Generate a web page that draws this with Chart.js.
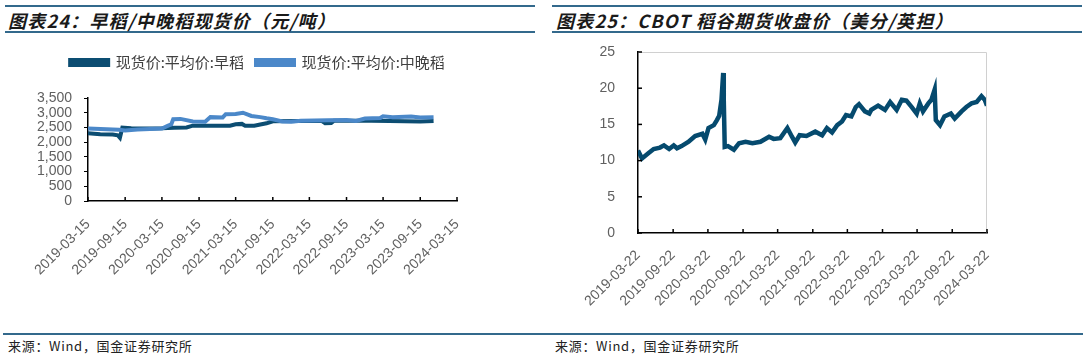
<!DOCTYPE html>
<html>
<head>
<meta charset="utf-8">
<script src="https://cdn.jsdelivr.net/npm/chart.js@4.4.1/dist/chart.umd.min.js"></script>
<style>
  body { margin: 0; width: 1086px; height: 358px; background: #fff; position: relative; overflow: hidden; font-family: "Noto Sans CJK SC", sans-serif; }
  .rule { position: absolute; height: 2px; background: #33698c; }
  .title { position: absolute; top: 7px; font-size: 18px; font-weight: bold; font-style: italic; letter-spacing: 1.2px; color: #1a1a1a; white-space: nowrap; }
  .src { position: absolute; top: 336px; font-size: 13px; letter-spacing: 0.7px; color: #222; white-space: nowrap; }
  .box { position: absolute; }
</style>
</head>
<body>
<div class="rule" style="left:5px;top:5px;width:530px"></div>
<div class="rule" style="left:5px;top:31px;width:530px"></div>
<div class="rule" style="left:552px;top:5px;width:530px"></div>
<div class="rule" style="left:552px;top:31px;width:530px"></div>
<div class="title" style="left:8px">图表24：早稻/中晚稻现货价（元/吨）</div>
<div class="title" style="left:556px">图表25：CBOT 稻谷期货收盘价（美分/英担）</div>

<div class="box" style="left:0;top:38px;width:545px;height:247px"><canvas id="rice"></canvas></div>
<div class="box" style="left:545px;top:38px;width:541px;height:275px"><canvas id="cbot"></canvas></div>

<div class="rule" style="left:3px;top:333px;width:1080px;height:2px"></div>
<div class="src" style="left:8px">来源：Wind，国金证券研究所</div>
<div class="src" style="left:555px">来源：Wind，国金证券研究所</div>

<script>
// 左图：早稻 / 中晚稻现货价
const riceTicks = ['2019-03-15', '2019-09-15', '2020-03-15', '2020-09-15', '2021-03-15', '2021-09-15',
  '2022-03-15', '2022-09-15', '2023-03-15', '2023-09-15', '2024-03-15']

const earlyDates = ['2019-03-15', '2019-05-15', '2019-07-15', '2019-08-10', '2019-08-20', '2019-09-01',
  '2019-10-15', '2020-01-15', '2020-03-15', '2020-05-15', '2020-07-15', '2020-08-15', '2021-02-15',
  '2021-03-15', '2021-04-15', '2021-05-01', '2021-06-15', '2021-07-15', '2021-08-15', '2021-09-15',
  '2022-01-15', '2022-05-15', '2022-06-01', '2022-07-01', '2022-07-15', '2023-01-15', '2023-04-15',
  '2023-09-15', '2023-11-20']
const earlyPrice = [2300, 2270, 2260, 2230, 2150, 2490,
  2470, 2460, 2470, 2490, 2500, 2560, 2560,
  2610, 2620, 2560, 2560, 2600, 2640, 2710,
  2720, 2720, 2640, 2650, 2730, 2730, 2720,
  2700, 2720]

const lateDates = ['2019-03-15', '2019-06-15', '2019-08-15', '2019-09-15', '2019-11-15', '2020-03-15',
  '2020-04-15', '2020-04-30', '2020-05-10', '2020-06-15', '2020-08-15', '2020-10-15', '2020-11-10',
  '2021-01-10', '2021-01-25', '2021-03-15', '2021-04-20', '2021-06-01', '2021-07-15', '2021-08-15',
  '2021-09-15', '2021-11-01', '2021-12-15', '2022-02-01', '2022-06-15', '2022-09-15', '2022-11-01',
  '2022-12-15', '2023-03-01', '2023-03-15', '2023-05-01', '2023-08-01', '2023-09-15', '2023-11-20']
const latePrice = [2460, 2440, 2420, 2400, 2430, 2460,
  2560, 2600, 2780, 2790, 2700, 2690, 2850,
  2840, 2950, 2960, 3000, 2890, 2850, 2810,
  2780, 2700, 2690, 2730, 2740, 2750, 2720,
  2800, 2820, 2880, 2850, 2870, 2840, 2850]

// 右图：CBOT 稻谷期货收盘价
const cbotTicks = ['2019-03-22', '2019-09-22', '2020-03-22', '2020-09-22', '2021-03-22', '2021-09-22',
  '2022-03-22', '2022-09-22', '2023-03-22', '2023-09-22', '2024-03-22']

const cbotDates = ['2019-03-22', '2019-04-12', '2019-05-15', '2019-06-12', '2019-07-15', '2019-08-05',
  '2019-09-01', '2019-09-25', '2019-10-12', '2019-11-05', '2019-12-12', '2020-01-15', '2020-02-22',
  '2020-03-08', '2020-03-25', '2020-04-22', '2020-05-08', '2020-05-20', '2020-06-01', '2020-06-10',
  '2020-06-13', '2020-06-18', '2020-07-05', '2020-08-05', '2020-09-01', '2020-10-05', '2020-11-10',
  '2020-12-22', '2021-02-05', '2021-03-01', '2021-04-05', '2021-05-12', '2021-06-05', '2021-06-22',
  '2021-07-15', '2021-08-20', '2021-10-05', '2021-11-10', '2021-12-05', '2022-01-01', '2022-01-28',
  '2022-02-22', '2022-03-15', '2022-04-12', '2022-05-05', '2022-05-22', '2022-06-22', '2022-07-15',
  '2022-07-25', '2022-08-30', '2022-10-05', '2022-11-01', '2022-12-05', '2023-01-01', '2023-01-25',
  '2023-02-22', '2023-03-20', '2023-04-05', '2023-04-22', '2023-05-20', '2023-06-05', '2023-06-22',
  '2023-06-28', '2023-07-20', '2023-08-12', '2023-09-15', '2023-10-05', '2023-11-10', '2023-12-05',
  '2024-01-01', '2024-01-28', '2024-02-22', '2024-03-10', '2024-03-22']
const cbotClose = [11.4, 10.3, 11.0, 11.6, 11.8, 12.1,
  11.6, 12.1, 11.7, 12.0, 12.6, 13.4, 13.7,
  12.9, 14.5, 14.9, 15.6, 16.2, 18.4, 22.1,
  18.4, 11.9, 12.0, 11.5, 12.4, 12.6, 12.4,
  12.6, 13.3, 13.0, 13.1, 14.5, 13.3, 12.5,
  13.5, 13.4, 14.0, 13.5, 14.5, 13.9, 14.9,
  15.4, 16.3, 16.1, 17.4, 17.8, 16.8, 16.5,
  17.0, 17.6, 17.0, 18.1, 17.0, 18.4, 18.3,
  17.4, 16.5, 17.9, 16.8, 17.9, 18.4, 19.8,
  15.6, 14.9, 16.1, 16.5, 15.8, 16.8, 17.4,
  17.9, 18.1, 18.9, 18.4, 17.6]

const day = s => Date.parse(s) / 864e5
const toPoints = (dates, vals) => dates.map((d, i) => ({ x: day(d), y: vals[i] }))

const tickFont = { family: '"Liberation Sans", Arial, sans-serif', size: 14 }
const gray = '#606060'

// 向内的刻度线 + 右图的灰色边框
const innerTicks = {
  id: 'innerTicks',
  afterDraw(chart, args, opts) {
    const { ctx, chartArea, scales: { x, y } } = chart
    ctx.save()
    if (opts.frame) {
      ctx.strokeStyle = '#d0d0d0'
      ctx.lineWidth = 1
      ctx.beginPath()
      ctx.moveTo(chartArea.left, chartArea.top + 0.5)
      ctx.lineTo(chartArea.right - 0.5, chartArea.top + 0.5)
      ctx.lineTo(chartArea.right - 0.5, chartArea.bottom)
      ctx.stroke()
    }
    ctx.strokeStyle = '#000'
    ctx.lineWidth = 1.5
    x.ticks.forEach(t => {
      const px = x.getPixelForValue(t.value)
      ctx.beginPath(); ctx.moveTo(px, chartArea.bottom); ctx.lineTo(px, chartArea.bottom - 4); ctx.stroke()
    })
    if (opts.y) {
      y.ticks.forEach(t => {
        const py = y.getPixelForValue(t.value)
        ctx.beginPath(); ctx.moveTo(chartArea.left, py); ctx.lineTo(chartArea.left + 4, py); ctx.stroke()
      })
    }
    ctx.restore()
  }
}

function dateAxis(ticks, axisHeight, pad) {
  return {
    type: 'linear',
    min: day(ticks[0]),
    max: day(ticks[ticks.length - 1]),
    afterBuildTicks: s => { s.ticks = ticks.map(t => ({ value: day(t) })) },
    afterFit: s => { s.height = axisHeight },
    grid: { display: false },
    border: { color: '#000', width: 1.5 },
    ticks: {
      autoSkip: false, maxRotation: 45, minRotation: 45, padding: pad,
      color: gray, font: tickFont,
      callback: (v, i) => ticks[i]
    }
  }
}

const legendGap = {
  id: 'legendGap',
  beforeInit(chart) {
    const fit = chart.legend.fit
    chart.legend.fit = function () { fit.bind(chart.legend)(); this.height += 18 }
  }
}

Chart.defaults.animation = false

new Chart(document.getElementById('rice'), {
  type: 'line',
  data: {
    datasets: [{
      label: '现货价:平均价:早稻',
      data: toPoints(earlyDates, earlyPrice),
      borderColor: '#0c4d72',
      backgroundColor: '#0c4d72',
      borderWidth: 4,
      order: 1
    }, {
      label: '现货价:平均价:中晚稻',
      data: toPoints(lateDates, latePrice),
      borderColor: '#4b88c9',
      backgroundColor: '#4b88c9',
      borderWidth: 4,
      order: 0
    }]
  },
  options: {
    responsive: true,
    maintainAspectRatio: false,
    elements: { point: { radius: 0 }, line: { tension: 0 } },
    layout: { padding: { top: 5, right: 30 } },
    plugins: {
      legend: {
        labels: {
          boxWidth: 38, boxHeight: 5, padding: 12, color: '#404040',
          font: { family: '"Noto Sans CJK SC"', size: 15 },
          sort: (a, b) => a.datasetIndex - b.datasetIndex
        }
      },
      tooltip: { enabled: false },
      innerTicks: {}
    },
    scales: {
      x: dateAxis(riceTicks, 84, 7),
      y: {
        min: 0, max: 3500,
        afterFit: s => { s.width = 88 },
        grid: { display: true, drawOnChartArea: false, tickLength: 4, color: '#000', lineWidth: 1 },
        border: { color: '#000', width: 1.5 },
        ticks: { stepSize: 500, autoSkip: false, padding: 12, color: gray, font: tickFont, callback: v => v.toLocaleString('en-US') }
      },
      // 右侧留白，只占位
      pad: {
        position: 'right', min: 0, max: 1,
        afterFit: s => { s.width = 58 },
        grid: { display: false }, border: { display: false }, ticks: { display: false }
      }
    }
  },
  plugins: [innerTicks, legendGap]
})

new Chart(document.getElementById('cbot'), {
  type: 'line',
  data: {
    datasets: [{
      label: 'CBOT稻谷期货收盘价',
      data: toPoints(cbotDates, cbotClose),
      borderColor: '#054a6e',
      borderWidth: 4.5
    }]
  },
  options: {
    responsive: true,
    maintainAspectRatio: false,
    elements: { point: { radius: 0 }, line: { tension: 0 } },
    layout: { padding: { top: 14, right: 99 } },
    plugins: {
      legend: { display: false },
      tooltip: { enabled: false },
      innerTicks: { y: true, frame: true }
    },
    scales: {
      x: dateAxis(cbotTicks, 80, 6),
      y: {
        min: 0, max: 25,
        afterFit: s => { s.width = 93; s.paddingTop = 0; s.paddingBottom = 0 },
        grid: { display: false },
        border: { color: '#000', width: 1.5 },
        ticks: { stepSize: 5, padding: 15, color: gray, font: tickFont }
      }
    }
  },
  plugins: [innerTicks]
})
</script>
</body>
</html>
